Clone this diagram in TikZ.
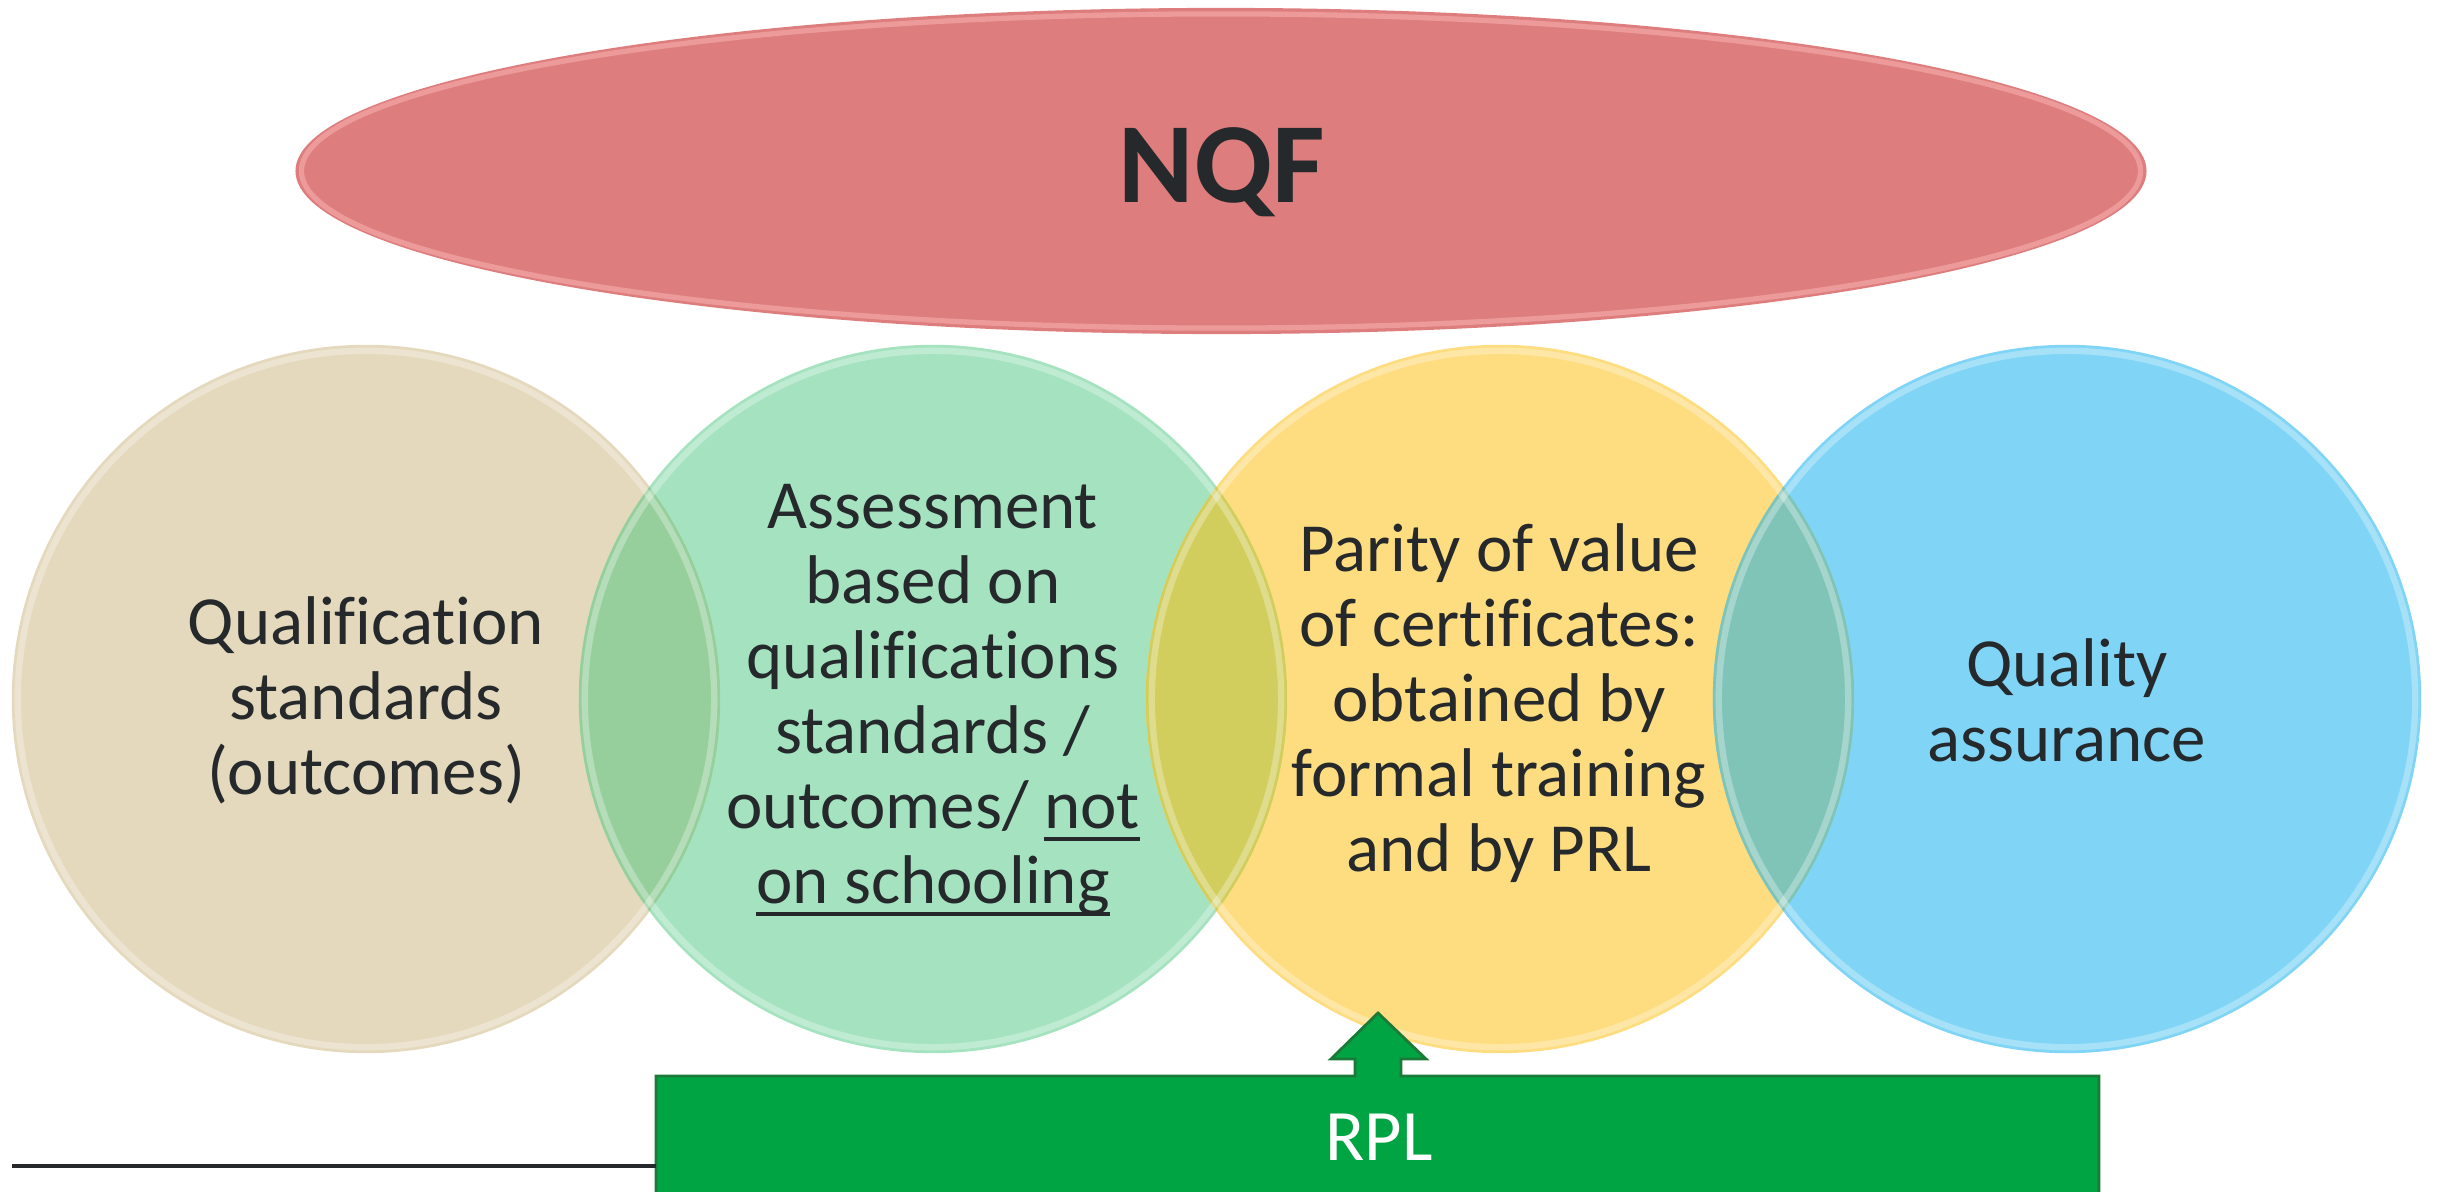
\documentclass[tikz,border=0pt]{standalone}
\usepackage{fontspec}
\setmainfont{Carlito}[Ligatures={NoCommon}]
\usetikzlibrary{shapes.geometric}
\definecolor{txt}{HTML}{25292C}
\definecolor{nqfc}{HTML}{DE7D7D}
\definecolor{nqfrim}{HTML}{F6AEAE}
\definecolor{tanc}{HTML}{E4D9BD}
\definecolor{greenc}{HTML}{A5E3C0}
\definecolor{yellowc}{HTML}{FEDD80}
\definecolor{bluec}{HTML}{80D5F6}
\definecolor{ovA}{HTML}{96CF9C}
\definecolor{ovB}{HTML}{D2CE5E}
\definecolor{ovC}{HTML}{80C4B8}
\definecolor{rplc}{HTML}{00A443}
\definecolor{rpledge}{HTML}{1C7A38}
\newcommand\myul[1]{\setbox0\hbox{#1}\rlap{\rule[-3.6pt]{\wd0}{1.1pt}}#1}
\begin{document}
\begin{tikzpicture}[x=0.01cm,y=-0.01cm,
  ring/.style={circle,minimum size=7.08cm,inner sep=0pt,draw=none},
  rimline/.style={white,opacity=0.3,line width=1.8pt},
  lbl/.style={align=center,text=txt,inner sep=0pt,font=\fontsize{19.6}{21.3}\selectfont},
  bigtxt/.style={text=txt,inner sep=0pt,font=\bfseries\fontsize{32.5}{36}\selectfont},
  rpltxt/.style={text=white,inner sep=0pt,font=\fontsize{20.6}{24}\selectfont}]
\useasboundingbox (0,0) rectangle (2438,1192);
\fill[white] (0,0) rectangle (2438,1192);
% NQF ellipse
\node[ellipse,minimum width=18.5cm,minimum height=3.26cm,inner sep=0pt,fill=nqfc,draw=none] (nqf) at (1221,171) {};
\draw[nqfrim,line width=1.5pt,opacity=0.6] (1221,171) ellipse [x radius=9.19cm,y radius=1.57cm];
\node[bigtxt,anchor=base] (nqft) at (1222,203) {NQF};
% circles
\node[ring,fill=tanc] (c1) at (366,699) {};
\node[ring,fill=greenc] (c2) at (933,699) {};
\node[ring,fill=yellowc] (c3) at (1500,699) {};
\node[ring,fill=bluec] (c4) at (2067,699) {};
% overlaps
\begin{scope}
  \clip (366,699) circle [radius=3.54cm];
  \fill[ovA] (933,699) circle [radius=3.54cm];
\end{scope}
\begin{scope}
  \clip (933,699) circle [radius=3.54cm];
  \fill[ovB] (1500,699) circle [radius=3.54cm];
\end{scope}
\begin{scope}
  \clip (1500,699) circle [radius=3.54cm];
  \fill[ovC] (2067,699) circle [radius=3.54cm];
\end{scope}
% rims
\draw[rimline] (366,699) circle [radius=3.48cm];
\draw[rimline] (933,699) circle [radius=3.48cm];
\draw[rimline] (1500,699) circle [radius=3.48cm];
\draw[rimline] (2067,699) circle [radius=3.48cm];
% texts
\node[lbl] (t1) at (366,700) {Qualification\\standards\\(outcomes)};
\node[lbl] (t2) at (933,700) {Assessment\\based on\\qualifications\\standards /\\outcomes/ \myul{not}\\\myul{on schooling}};
\node[lbl] (t3) at (1499,703) {Parity of value\\of certificates:\\obtained by\\formal training\\and by PRL};
\node[lbl] (t4) at (2067,700) {Quality\\assurance};
% RPL bar with arrow
\coordinate (rplL) at (656,1200);
\coordinate (tip) at (1378,1013);
\filldraw[fill=rplc,draw=rpledge,line width=0.8pt,line join=miter]
  (rplL) -- (656,1076) -- (1355,1076) -- (1355,1059) -- (1331,1059) -- (tip)
  -- (1426,1059) -- (1401,1059) -- (1401,1076) -- (2099,1076) -- (2099,1200) -- cycle;
\node[rpltxt,anchor=base] (rpl) at (1379,1161) {RPL};
% base line
\coordinate (lineL) at (12,1166);
\draw[txt,line width=0.9pt] (lineL) -- (rplL |- lineL);
\end{tikzpicture}
\end{document}
